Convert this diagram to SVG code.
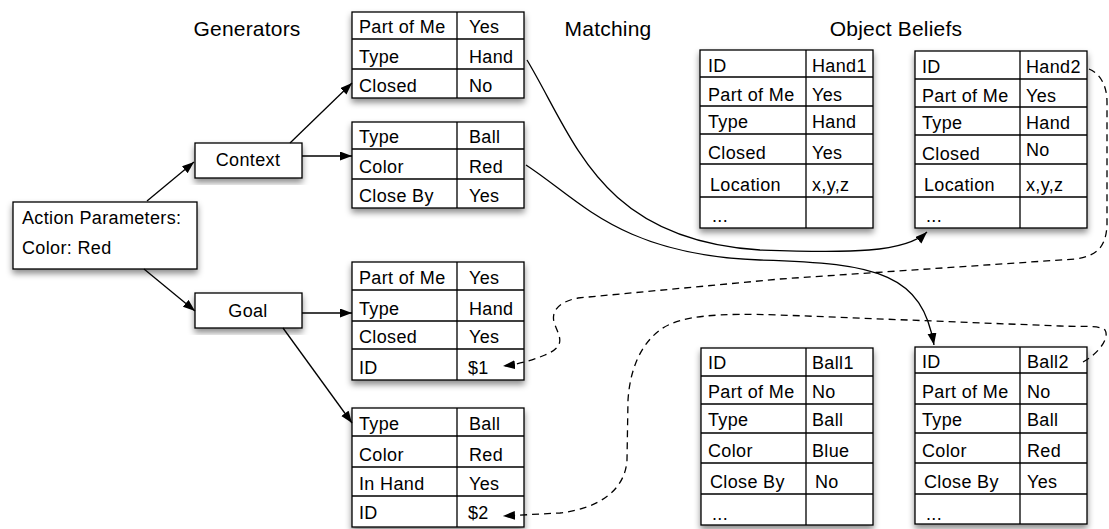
<svg xmlns="http://www.w3.org/2000/svg" width="1109" height="529" viewBox="0 0 1109 529">
  <defs>
    <filter id="shadow" x="-10%" y="-10%" width="120%" height="130%">
      <feDropShadow dx="0" dy="4" stdDeviation="3" flood-color="#000" flood-opacity="0.45"/>
    </filter>
    <marker id="head" markerUnits="userSpaceOnUse" markerWidth="13" markerHeight="10" refX="12" refY="4.5" orient="auto">
      <path d="M0,0 L12,4.5 L0,9 z" fill="#000"/>
    </marker>
  </defs>
  <style>
    text { font-family: "Liberation Sans", Arial, Helvetica, sans-serif; font-size: 18px; letter-spacing: 0.35px; fill: #000; }
    .title { font-size: 21px; letter-spacing: 0.2px; }
    .mid { text-anchor: middle; }
    .box { fill: #fff; stroke: #000; stroke-width: 1.3; filter: url(#shadow); }
    .grid { stroke: #000; stroke-width: 1.3; fill: none; }
    .link { stroke: #000; stroke-width: 1.3; fill: none; marker-end: url(#head); }
    .dash { stroke-dasharray: 7 5; }
  </style>
  <rect width="1109" height="529" fill="#fff"/>

  <!-- column headings -->
  <g id="headings">
    <text class="title mid" x="247" y="36">Generators</text>
    <text class="title mid" x="608" y="36">Matching</text>
    <text class="title mid" x="896" y="36">Object Beliefs</text>
  </g>

  <!-- left-hand nodes -->
  <g id="action-parameters">
    <rect class="box" x="13" y="202" width="184" height="67"/>
    <text x="22" y="224">Action Parameters:</text>
    <text x="22" y="254">Color: Red</text>
  </g>
  <g id="context">
    <rect class="box" x="195" y="143" width="107" height="35"/>
    <text class="mid" x="248" y="166">Context</text>
  </g>
  <g id="goal">
    <rect class="box" x="195" y="293" width="107" height="35"/>
    <text class="mid" x="248" y="317">Goal</text>
  </g>

  <!-- generator tables -->
  <g id="gen-hand">
    <rect class="box" x="352" y="12" width="172" height="86"/>
    <path class="grid" d="M352,39 H524 M352,69 H524 M457,12 V98"/>
    <text x="359" y="33">Part of Me</text><text x="469" y="33">Yes</text>
    <text x="359" y="63">Type</text><text x="469" y="63">Hand</text>
    <text x="359" y="92">Closed</text><text x="469" y="92">No</text>
  </g>
  <g id="gen-ball">
    <rect class="box" x="352" y="122" width="172" height="86"/>
    <path class="grid" d="M352,149 H524 M352,179 H524 M457,122 V208"/>
    <text x="359" y="143">Type</text><text x="469" y="143">Ball</text>
    <text x="359" y="173">Color</text><text x="469" y="173">Red</text>
    <text x="359" y="202">Close By</text><text x="469" y="202">Yes</text>
  </g>
  <g id="goal-hand">
    <rect class="box" x="352" y="262" width="172" height="118"/>
    <path class="grid" d="M352,290 H524 M352,321 H524 M352,349 H524 M457,262 V380"/>
    <text x="359" y="284">Part of Me</text><text x="469" y="284">Yes</text>
    <text x="359" y="315">Type</text><text x="469" y="315">Hand</text>
    <text x="359" y="343">Closed</text><text x="469" y="343">Yes</text>
    <text x="359" y="374">ID</text><text x="468" y="374">$1</text>
  </g>
  <g id="goal-ball">
    <rect class="box" x="352" y="408" width="172" height="119"/>
    <path class="grid" d="M352,436 H524 M352,467 H524 M352,496 H524 M457,408 V527"/>
    <text x="359" y="430">Type</text><text x="469" y="430">Ball</text>
    <text x="359" y="461">Color</text><text x="469" y="461">Red</text>
    <text x="359" y="490">In Hand</text><text x="469" y="490">Yes</text>
    <text x="359" y="519">ID</text><text x="468" y="519">$2</text>
  </g>

  <!-- object belief tables -->
  <g id="belief-hand1">
    <rect class="box" x="700" y="50" width="173" height="178"/>
    <path class="grid" d="M700,77 H873 M700,106 H873 M700,134 H873 M700,164 H873 M700,197 H873 M806,50 V228"/>
    <text x="708" y="72">ID</text><text x="812" y="72">Hand1</text>
    <text x="708" y="101">Part of Me</text><text x="812" y="101">Yes</text>
    <text x="708" y="128">Type</text><text x="812" y="128">Hand</text>
    <text x="708" y="159">Closed</text><text x="812" y="159">Yes</text>
    <text x="710" y="191">Location</text><text x="812" y="191">x,y,z</text>
    <text x="712" y="222">...</text>
  </g>
  <g id="belief-hand2">
    <rect class="box" x="915" y="51" width="172" height="177"/>
    <path class="grid" d="M915,79 H1087 M915,107 H1087 M915,135 H1087 M915,164 H1087 M915,197 H1087 M1020,51 V228"/>
    <text x="922" y="73">ID</text><text x="1026" y="73">Hand2</text>
    <text x="922" y="102">Part of Me</text><text x="1026" y="102">Yes</text>
    <text x="922" y="129">Type</text><text x="1026" y="129">Hand</text>
    <text x="922" y="160">Closed</text><text x="1026" y="156">No</text>
    <text x="924" y="191">Location</text><text x="1026" y="191">x,y,z</text>
    <text x="926" y="222">...</text>
  </g>
  <g id="belief-ball1">
    <rect class="box" x="701" y="348" width="172" height="177"/>
    <path class="grid" d="M701,376 H873 M701,404 H873 M701,433 H873 M701,463 H873 M701,494 H873 M806,348 V525"/>
    <text x="708" y="369">ID</text><text x="812" y="369">Ball1</text>
    <text x="708" y="398">Part of Me</text><text x="812" y="398">No</text>
    <text x="708" y="426">Type</text><text x="812" y="426">Ball</text>
    <text x="708" y="457">Color</text><text x="812" y="457">Blue</text>
    <text x="710" y="488">Close By</text><text x="815" y="488">No</text>
    <text x="712" y="520">...</text>
  </g>
  <g id="belief-ball2">
    <rect class="box" x="915" y="347" width="172" height="177"/>
    <path class="grid" d="M915,373 H1087 M915,404 H1087 M915,433 H1087 M915,463 H1087 M915,494 H1087 M1020,347 V524"/>
    <text x="922" y="368">ID</text><text x="1027" y="368">Ball2</text>
    <text x="922" y="398">Part of Me</text><text x="1027" y="398">No</text>
    <text x="922" y="426">Type</text><text x="1027" y="426">Ball</text>
    <text x="922" y="457">Color</text><text x="1027" y="457">Red</text>
    <text x="924" y="488">Close By</text><text x="1027" y="488">Yes</text>
    <text x="926" y="520">...</text>
  </g>

  <!-- connectors -->
  <g id="connectors">
    <path class="link" d="M147,201 L194,162"/>
    <path class="link" d="M290,143 L352,83"/>
    <path class="link" d="M302,156 L352,156"/>
    <path class="link" d="M144,269 L195,311"/>
    <path class="link" d="M302,313 L352,313"/>
    <path class="link" d="M283,328 L352,423"/>
    <!-- matches from generators to beliefs -->
    <path class="link" d="M527,60 C575,140 600,240 760,250 C850,253 905,253 927,232"/>
    <path class="link" d="M526,165 C580,200 620,255 760,260 C880,263 922,275 934,345"/>
    <!-- bindings fed back to the goal ids -->
    <path class="link dash" d="M1089,69 C1099,73 1107,84 1107,102 L1107,225 C1106,246 1098,256 1075,259 L780,279 L578,298 C557,302 550,313 555,325 C560,338 566,346 545,355 C533,360 520,364 503,366"/>
    <path class="link dash" d="M1083,362 C1098,354 1110,338 1105,330 C1099,325 1085,327 1060,326 L780,315 C720,313 680,315 660,330 C640,345 630,370 628,400 L627,460 C625,490 600,508 560,513 L503,516"/>
  </g>
</svg>
